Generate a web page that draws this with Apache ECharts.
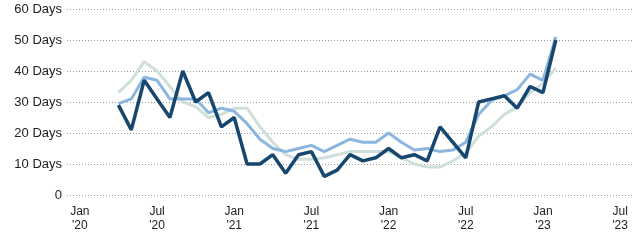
<!DOCTYPE html>
<html><head><meta charset="utf-8">
<script src="https://cdn.jsdelivr.net/npm/echarts@6/dist/echarts.min.js"></script>
<style>html,body{margin:0;padding:0;background:#fff}#c{width:633px;height:240px}</style>
</head><body><div id="c"></div>
<script>
const months = [
 'Dec 2019','Jan 2020','Feb 2020','Mar 2020','Apr 2020','May 2020','Jun 2020','Jul 2020','Aug 2020','Sep 2020','Oct 2020','Nov 2020','Dec 2020',
 'Jan 2021','Feb 2021','Mar 2021','Apr 2021','May 2021','Jun 2021','Jul 2021','Aug 2021','Sep 2021','Oct 2021','Nov 2021','Dec 2021',
 'Jan 2022','Feb 2022','Mar 2022','Apr 2022','May 2022','Jun 2022','Jul 2022','Aug 2022','Sep 2022','Oct 2022','Nov 2022','Dec 2022',
 'Jan 2023','Feb 2023','Mar 2023','Apr 2023','May 2023','Jun 2023','Jul 2023','Aug 2023'];
// values from Apr 2020 to Feb 2023
const darkSeries = [29,21,37,31,25,40,30,33,22,25,10,10,13,7,13,14,6,8,13,11,12,15,12,13,11,22,17,12,30,31,32,28,35,33,50];
const midSeries  = [29.5,31,38,37,31,31,31,26.5,28,27,23,18,15,14,15,16,14,16,18,17,17,20,17,14.5,15,14,14.5,17,26,30.5,32,34,39,37,51];
const lightSeries= [33,37,43,40,35,30,28.5,25,26,28,28,22,17,13,11.5,11.5,12,13,14,14,14,14,12,10,9,9,11,13.5,19,22,26,28.5,33,36,41];
const yTicks = [0,10,20,30,40,50,60];
const startIdx = months.indexOf('Apr 2020');
function pad(arr){ const out = months.map(()=>null); arr.forEach((v,i)=>{out[startIdx+i]=v;}); return out; }
const chart = echarts.init(document.getElementById('c'));
const font = 'Liberation Sans, Arial, sans-serif';
chart.setOption({
  animation:false,
  grid:{left:67,right:0,top:9,bottom:45,containLabel:false},
  xAxis:{type:'category',data:months,boundaryGap:false,
    axisLine:{show:false},axisTick:{show:false},splitLine:{show:false},
    axisLabel:{interval:(i,v)=>/^(Jan|Jul) /.test(v),color:'#222',fontFamily:font,fontSize:12,lineHeight:14,margin:10,
      formatter:v=>{const p=v.split(' ');return p[0]+'\n\''+p[1].slice(2);}}},
  yAxis:{type:'value',min:yTicks[0],max:yTicks[yTicks.length-1],interval:10,
    axisLine:{show:false},axisTick:{show:false},
    splitLine:{show:true,lineStyle:{color:'#9a9a9a',type:[1,2],width:1}},
    axisLabel:{color:'#222',fontFamily:font,fontSize:13,margin:5,formatter:v=>v===0?'0':v+' Days'}},
  series:[
    {type:'line',data:pad(lightSeries),symbol:'none',lineStyle:{color:'#cfe0dc',width:3},z:1},
    {type:'line',data:pad(midSeries),symbol:'none',lineStyle:{color:'#8db6de',width:3},z:2},
    {type:'line',data:pad(darkSeries),symbol:'none',lineStyle:{color:'#17466f',width:3.5},z:3}
  ]
});
</script></body></html>
